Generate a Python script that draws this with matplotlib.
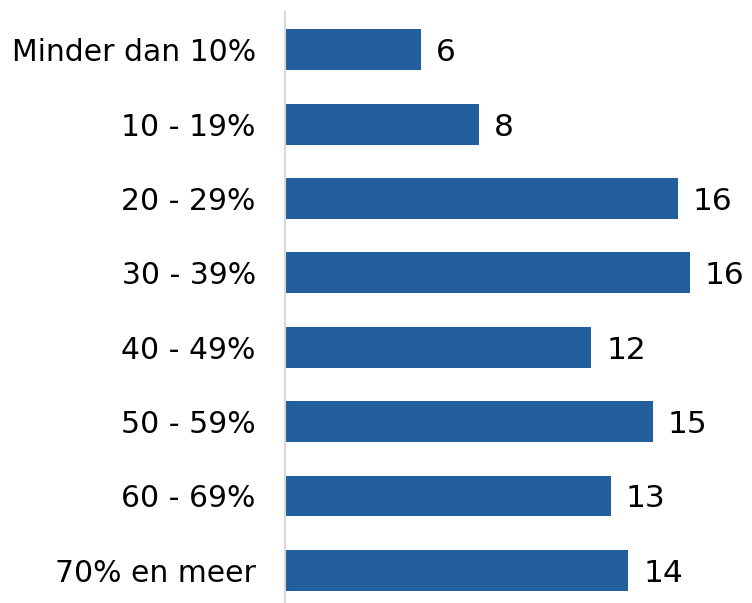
import numpy as np
import matplotlib
matplotlib.use("Agg")
from matplotlib import pyplot as plt

# Categories top to bottom, bar lengths, shown labels as printed
categories = ["Minder dan 10%", "10 - 19%", "20 - 29%", "30 - 39%",
              "40 - 49%", "50 - 59%", "60 - 69%", "70% en meer"]
values = [5.5, 7.85, 15.9, 16.4, 12.4, 14.9, 13.2, 13.9]
value_labels = ["6", "8", "16", "16", "12", "15", "13", "14"]

barColor = "#235f9c"

fig = plt.figure(figsize=(7.52, 6.03), dpi=100)
ax = fig.add_axes([285 / 752, 0, 467 / 752, 591 / 603])

y = np.arange(len(categories))
ax.barh(y, values, height=0.55, color=barColor)

for i, (v, lab) in enumerate(zip(values, value_labels)):
	ax.text(v + 0.6, i + 0.04, lab, va="center", ha="left", fontsize=22.5, color="black")

ax.set_xlim(0, 18.9)
ax.set_ylim(7.44, -0.51)
ax.set_yticks(y)
ax.set_yticklabels(categories, fontsize=21.5)
ax.tick_params(axis="y", length=0, pad=21)
ax.set_xticks([])

for side in ["top", "right", "bottom"]:
	ax.spines[side].set_visible(False)
ax.spines["left"].set_color("#d9d9d9")
ax.spines["left"].set_linewidth(1.5)

fig.savefig("out.png", dpi=100)
